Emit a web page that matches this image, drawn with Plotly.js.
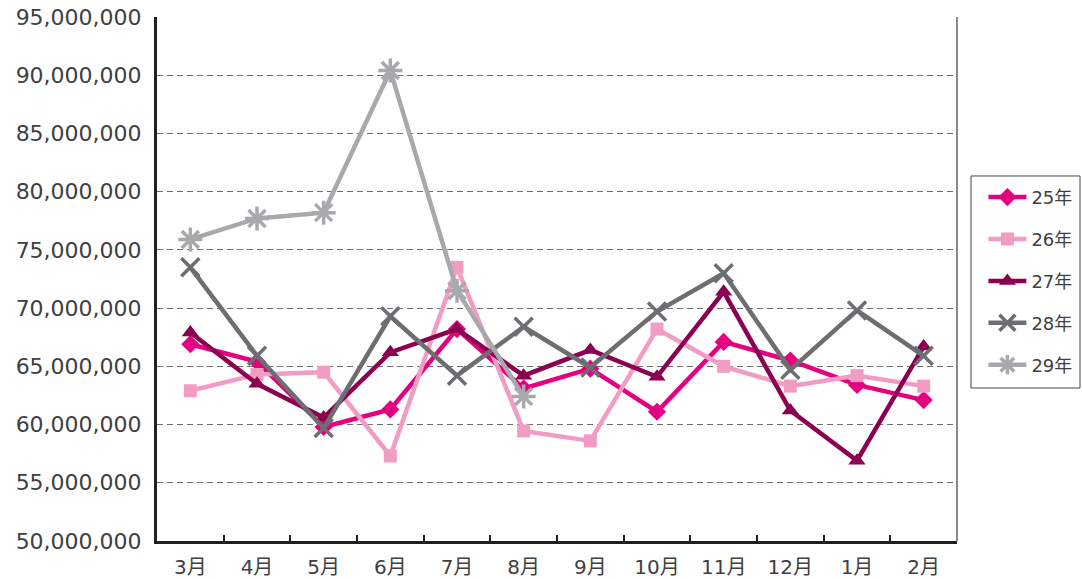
<!DOCTYPE html>
<html>
<head>
<meta charset="utf-8">
<script src="https://cdn.plot.ly/plotly-3.0.1.min.js"></script>
<style>html,body{margin:0;padding:0;background:#fff;}#chart{width:1082px;height:579px;}</style>
</head>
<body>
<div id="chart"></div>
<script>
var months = ['3月','4月','5月','6月','7月','8月','9月','10月','11月','12月','1月','2月'];
var seriesNames = ['25年','26年','27年','28年','29年'];
var y25 = [66900000, 65400000, 59800000, 61300000, 68200000, 63100000, 64800000, 61100000, 67100000, 65500000, 63400000, 62100000];
var y26 = [62900000, 64300000, 64500000, 57300000, 73500000, 59450000, 58600000, 68200000, 65000000, 63300000, 64200000, 63300000];
var y27 = [67900000, 63500000, 60600000, 66200000, 68200000, 64200000, 66400000, 64100000, 71400000, 61200000, 56900000, 66700000];
var y28 = [73500000, 65900000, 59700000, 69300000, 64200000, 68400000, 64900000, 69700000, 73000000, 64700000, 69800000, 65900000];
var y29 = [75900000, 77700000, 78200000, 90400000, 71500000, 62400000, null, null, null, null, null, null];

var colors = ['#E4007F', '#F29CC4', '#8C0052', '#6D6E71', '#A8A9AD'];
var symbols = ['diamond', 'square', 'triangle-up', 'x-thin', 'asterisk'];
var msizes = [14, 13, 15, 18, 20];
var data = [y25, y26, y27, y28, y29];

var traces = data.map(function(ys, i) {
  var thin = (symbols[i] === 'x-thin' || symbols[i] === 'asterisk');
  return {
    type: 'scatter', mode: 'lines+markers',
    x: months, y: ys, name: seriesNames[i], legendgroup: 'g' + i,
    line: {color: colors[i], width: 4.5},
    marker: {symbol: symbols[i], size: msizes[i], color: colors[i],
      line: {color: colors[i], width: thin ? 3.5 : 0}},
    connectgaps: false,
    cliponaxis: false
  };
});

var fontFam = '"DejaVu Sans", "Noto Sans CJK JP", sans-serif';
var layout = {
  width: 1082, height: 579,
  margin: {l: 157, r: 125, t: 17, b: 38, pad: 0, autoexpand: false},
  paper_bgcolor: '#ffffff', plot_bgcolor: '#ffffff',
  font: {family: fontFam, color: '#404040', size: 20},
  showlegend: true,
  legend: {
    x: 1.033, xanchor: 'left', y: 0.691, yanchor: 'top',
    borderwidth: 0, bgcolor: 'rgba(0,0,0,0)',
    font: {family: fontFam, size: 18, color: '#404040'},
    tracegroupgap: 15.5, traceorder: 'grouped', itemwidth: 38
  },
  xaxis: {
    type: 'category', range: [-0.5, 11.5], fixedrange: true,
    showline: true, linecolor: '#231f20', linewidth: 3,
    ticks: 'inside', tickson: 'boundaries', ticklen: 6, tickwidth: 2, tickcolor: '#231f20',
    showgrid: false, zeroline: false, automargin: false,
    tickfont: {family: fontFam, size: 20, color: '#404040'},
    ticklabelstandoff: 6
  },
  yaxis: {
    range: [50000000, 95000000], dtick: 5000000, tick0: 50000000,
    tickformat: ',d', fixedrange: true, automargin: false,
    showline: true, linecolor: '#231f20', linewidth: 3,
    ticks: '', showgrid: true, gridcolor: '#6f6f6f', gridwidth: 1, griddash: '6px,4px',
    zeroline: false,
    tickfont: {family: fontFam, size: 22, color: '#404040'},
    ticklabelstandoff: 8
  },
  shapes: [
    {type: 'line', xref: 'paper', yref: 'paper', x0: 1, x1: 1, y0: 0, y1: 1,
     line: {color: '#8a8a8a', width: 2}, layer: 'below'},
    {type: 'rect', xref: 'paper', yref: 'paper', x0: 1.0175, x1: 1.15375, y0: 0.292, y1: 0.6966,
     line: {color: '#444444', width: 1}, fillcolor: 'rgba(0,0,0,0)', layer: 'above'}
  ]
};

Plotly.newPlot('chart', traces, layout, {displayModeBar: false, staticPlot: true});
</script>
</body>
</html>
